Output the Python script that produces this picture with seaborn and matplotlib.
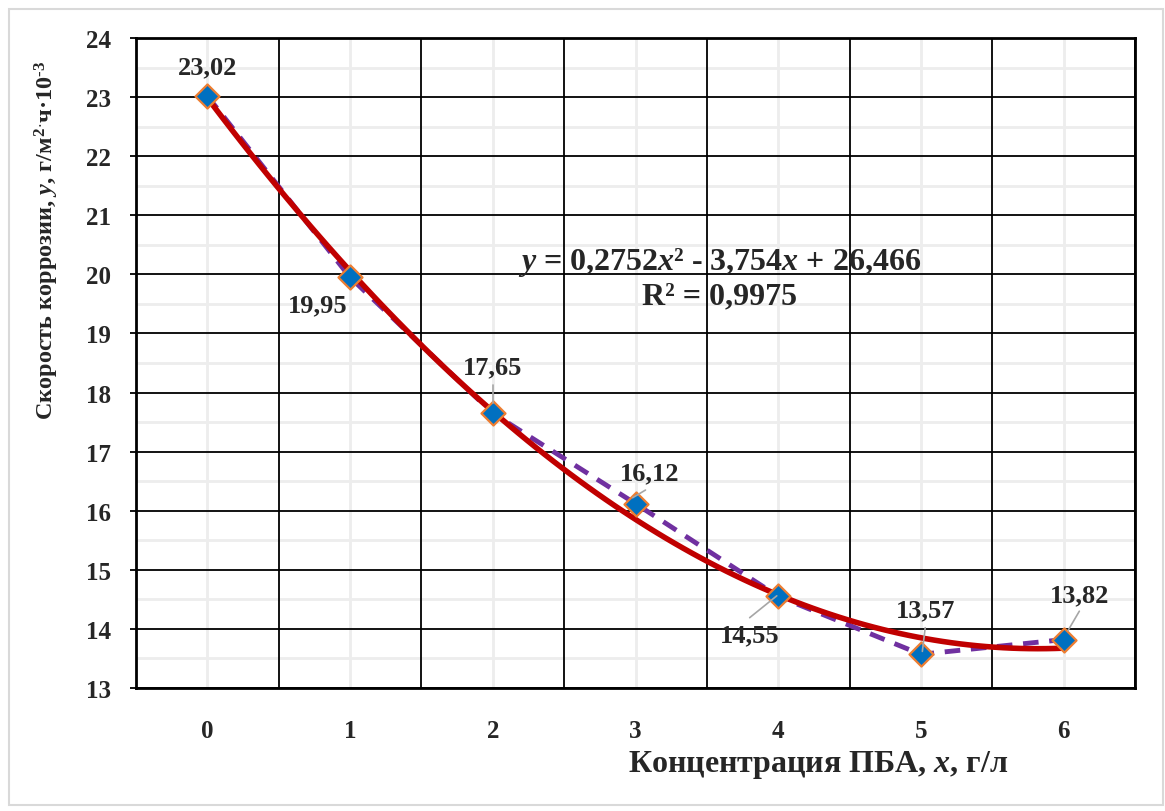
import numpy as np
import pandas as pd
import matplotlib
matplotlib.use("Agg")
import matplotlib.pyplot as plt
from matplotlib.patches import Rectangle
import seaborn as sns

# ---- data ----
concentration = [0, 1, 2, 3, 4, 5, 6]
corrosion_rate = [23.02, 19.95, 17.65, 16.12, 14.55, 13.57, 13.82]
value_labels = ["23,02", "19,95", "17,65", "16,12", "14,55", "13,57", "13,82"]
y_ticks = [13, 14, 15, 16, 17, 18, 19, 20, 21, 22, 23, 24]
equation_text = r"$y$ = 0,2752$x$² - 3,754$x$ + 26,466"
r2_text = "R² = 0,9975"
x_label = "Концентрация ПБА, $x$, г/л"
y_label = "Скорость коррозии, $y$, г/м$^{2}$$^{\\cdot}$ч·10$^{‐3}$"

df = pd.DataFrame({"x": concentration, "y": corrosion_rate})

sns.set_theme(style="white")
plt.rcParams["font.family"] = ["Liberation Serif", "DejaVu Serif"]
plt.rcParams["font.weight"] = "bold"
plt.rcParams["mathtext.fontset"] = "custom"
plt.rcParams["mathtext.rm"] = "Liberation Serif:bold"
plt.rcParams["mathtext.it"] = "Liberation Serif:italic:bold"
plt.rcParams["mathtext.bf"] = "Liberation Serif:bold"

fig = plt.figure(figsize=(11.65, 8.12), dpi=100)
ax = fig.add_axes([136 / 1165, 1 - 689 / 812, 999 / 1165, 650 / 812])

# light outer border of the chart area
fig.patches.append(Rectangle((9 / 1165, 1 - 806 / 812), 1154 / 1165, 796 / 812,
                             transform=fig.transFigure, fill=False,
                             edgecolor="#D9D9D9", linewidth=1.5, zorder=0))

ax.set_xlim(-0.5, 6.5)
ax.set_ylim(13, 24)

# grid
for v in np.arange(-0.5, 6.6, 1.0):
    ax.axvline(v, color="black", lw=1.3, zorder=1)
for v in concentration:
    ax.axvline(v, color="#EDEDED", lw=2.0, zorder=0.5)
for v in y_ticks:
    ax.axhline(v, color="black", lw=1.3, zorder=1)
for v in np.arange(13.5, 24, 1.0):
    ax.axhline(v, color="#EDEDED", lw=2.0, zorder=0.5)

# dashed connecting line
sns.lineplot(data=df, x="x", y="y", ax=ax, color="#7030A0", lw=3.5,
             linestyle=(0, (3.2, 2.2)), zorder=3)

# polynomial trendline
sns.regplot(data=df, x="x", y="y", order=2, ci=None, scatter=False, ax=ax,
            line_kws=dict(color="#C00000", lw=4, zorder=4))

# markers
ax.scatter(df["x"], df["y"], marker="D", s=150, color="#0070C0",
           edgecolor="#ED7D31", linewidth=1.6, zorder=5)

# data labels (text position, optional leader line)
label_pos = [(0.0, 23.51), (0.775, 19.49), (2.0, 18.43), (3.10, 16.64),
             (3.80, 13.90), (5.03, 14.32), (6.115, 14.57)]
leaders = [None, None, ((2.0, 18.12), (2.0, 17.82)),
           ((3.07, 16.35), (2.98, 16.22)),
           ((3.80, 14.19), (3.99, 14.56)),
           ((5.03, 14.02), (5.01, 13.62)),
           ((6.11, 14.30), (6.03, 13.97))]
for (tx, ty), lab, ld in zip(label_pos, value_labels, leaders):
    ax.text(tx, ty, lab, ha="center", va="center", fontsize=19,
            fontweight="bold", zorder=6)
    if ld is not None:
        (x0, y0), (x1, y1) = ld
        ax.plot([x0, x1], [y0, y1], color="#A6A6A6", lw=1.2, zorder=6)

# equation
ax.text(3.59, 20.21, equation_text, ha="center", va="center", fontsize=23,
        fontweight="bold", zorder=6)
ax.text(3.59, 19.63, r2_text, ha="center", va="center", fontsize=23,
        fontweight="bold", zorder=6)

# ticks
ax.set_xticks(concentration)
ax.set_xticklabels([str(c) for c in concentration])
ax.set_yticks(y_ticks)
ax.tick_params(axis="x", length=0, pad=22, labelsize=18)
ax.tick_params(axis="y", length=4, width=1.3, color="black", direction="out",
               left=True, pad=14, labelsize=18)
for lab in ax.get_xticklabels() + ax.get_yticklabels():
    lab.set_fontweight("bold")

for s in ax.spines.values():
    s.set_color("black")
    s.set_linewidth(2)
    s.set_zorder(7)

ax.set_xlabel(x_label, fontsize=23, fontweight="bold")
ax.set_ylabel(y_label, fontsize=17.5, fontweight="bold")
ax.xaxis.set_label_coords((818 - 136) / 999, -(765 - 689) / 650)
ax.yaxis.set_label_coords((47 - 136) / 999, (689 - 240) / 650)
ax.xaxis.label.set_va("center")
ax.yaxis.label.set_va("center")

fig.savefig("out.png", dpi=100, facecolor="white")
